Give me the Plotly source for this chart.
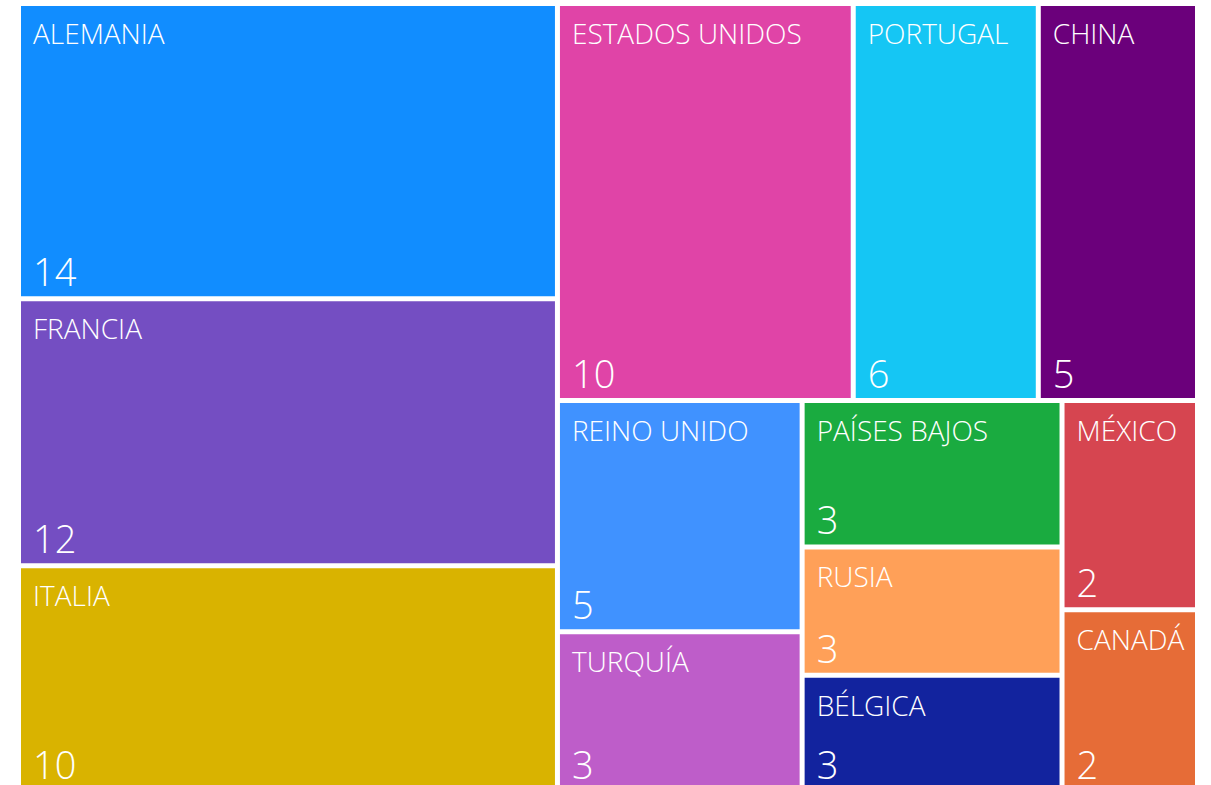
import plotly.graph_objects as go

# Countries (as shown), sorted by size
labels = ["ALEMANIA", "FRANCIA", "ITALIA", "ESTADOS UNIDOS", "PORTUGAL", "CHINA",
          "REINO UNIDO", "TURQUÍA", "PAÍSES BAJOS", "RUSIA", "BÉLGICA", "MÉXICO", "CANADÁ"]
# Underlying values estimated from tile areas; displayed rounded (14, 12, 10, 10, 6, 5, 5, 3, 3, 3, 3, 2, 2)
values = [13.64, 12.34, 10.43, 10.07, 6.30, 5.42, 4.85, 3.35, 3.26, 2.86, 2.59, 2.43, 2.11]
colors = ["#118DFF", "#744EC2", "#D9B300", "#E044A7", "#15C6F4", "#6B007B",
          "#4092FF", "#BE5DC9", "#1AAB40", "#FFA058", "#12239E", "#D64550", "#E66C37"]
parents = [""] * len(labels)

FONT = "Segoe UI Semilight, Segoe UI, Open Sans, Noto Sans, sans-serif"
W, H = 1211, 800
X0, X1, YT, YB = 20, 1196, 5, 790  # tile area in page pixels


def dom(dx=0.0, dy=0.0):
    return dict(x=[(X0 + dx) / W, (X1 + dx) / W],
                y=[1 - (YB + dy) / H, 1 - (YT + dy) / H])


common = dict(
    labels=labels, parents=parents, values=values, sort=True,
    tiling=dict(packing="squarify", squarifyratio=1.618),
    pathbar=dict(visible=False),
)
clear = ["rgba(0,0,0,0)"] * len(labels)

fig = go.Figure()
# Coloured tiles
fig.add_trace(go.Treemap(
    **common, domain=dom(),
    marker=dict(colors=colors, line=dict(color="white", width=2), pad=dict(t=0, l=0, r=0, b=0)),
    root=dict(color="white"),
    texttemplate=" ", textinfo="none",
    hoverinfo="skip",
))
# Values at bottom-left (transparent overlay, inset)
fig.add_trace(go.Treemap(
    **common, domain=dom(10, 3),
    marker=dict(colors=clear, line=dict(color="rgba(0,0,0,0)", width=2), pad=dict(t=0, l=0, r=0, b=0)),
    root=dict(color="rgba(0,0,0,0)"),
    texttemplate="%{value:.0f}",
    textposition="bottom left",
    textfont=dict(family=FONT, size=38, color="white", weight=300),
    hoverinfo="skip",
))
# Names at top-left (transparent overlay, inset)
fig.add_trace(go.Treemap(
    **common, domain=dom(10, 6),
    marker=dict(colors=clear, line=dict(color="rgba(0,0,0,0)", width=2), pad=dict(t=0, l=0, r=0, b=0)),
    root=dict(color="rgba(0,0,0,0)"),
    texttemplate="%{label}",
    textposition="top left",
    textfont=dict(family=FONT, size=28, color="white", weight=300),
    hovertemplate="%{label}: %{value:.0f}<extra></extra>",
))

fig.update_layout(
    width=W, height=H, autosize=False,
    margin=dict(l=0, r=0, t=0, b=0, pad=0),
    paper_bgcolor="white",
    plot_bgcolor="white",
    showlegend=False,
)

fig.write_html(
    "out.html",
    config={"displayModeBar": False},
    post_script="document.body.style.margin='0';document.body.style.overflow='hidden';",
)
